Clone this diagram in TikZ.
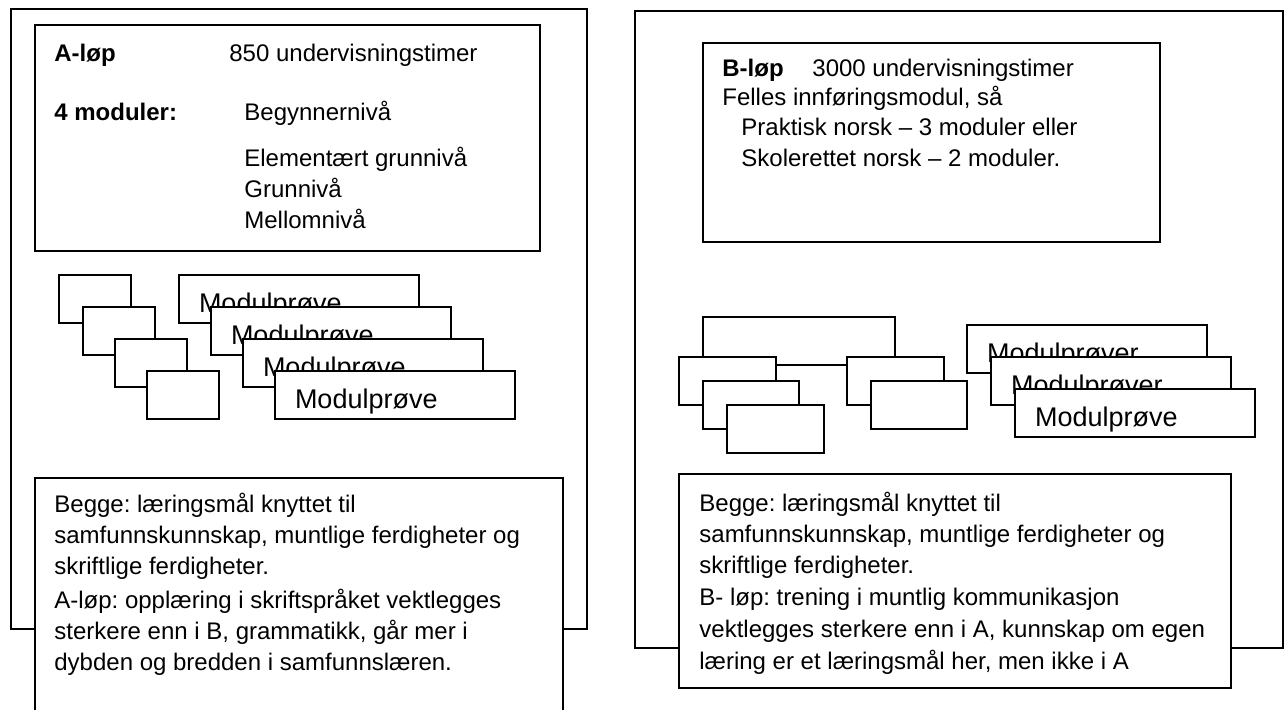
\documentclass[tikz,border=0pt]{standalone}
\usepackage{fontspec}
\setmainfont{Liberation Sans}
\frenchspacing
\tikzset{
    outerbox/.style={draw, line width=1pt, fill=white, inner sep=0pt, anchor=north west},
    smallbox/.style={draw, line width=1pt, fill=white, inner sep=0pt, anchor=north west,
                     minimum height=24pt},
    provebox/.style={draw, line width=1pt, fill=white, anchor=north west, inner ysep=0pt,
                     inner xsep=10pt, minimum width=120pt, text width=100pt, align=left,
                     text height=18.5pt, text depth=5.5pt, font=\fontsize{13.5}{15}\selectfont},
    txt/.style={inner sep=0pt, anchor=base west, font=\fontsize{12}{14}\selectfont},
    btxt/.style={txt, font=\fontsize{12}{14}\selectfont\bfseries},
}
\begin{document}
\begin{tikzpicture}[x=0.5pt, y=-0.5pt]
    \useasboundingbox (0,0) rectangle (1288,709);
    \clip (0,0) rectangle (1288,709);

    % A side
    \node[outerbox, minimum width=288pt, minimum height=310pt] (aframe) at (10,8) {};
    \node[outerbox, minimum width=252.5pt, minimum height=113pt] (abox) at (34,24) {};
    \node[btxt] (ahead) at (54,61) {A-løp};
    \node[txt] (ahours) at (229,61) {850 undervisningstimer};
    \node[btxt] (amod) at (54,120) {4 moduler:};
    \node[txt] (alvl1) at (244,120) {Begynnernivå};
    \node[txt] (alvl2) at (244,166) {Elementært grunnivå};
    \node[txt] (alvl3) at (244,197) {Grunnivå};
    \node[txt] (alvl4) at (244,228) {Mellomnivå};

    \node[smallbox, minimum width=36pt] (asq1) at (58,274) {};
    \node[smallbox, minimum width=36pt] (asq2) at (82,306) {};
    \node[smallbox, minimum width=36pt] (asq3) at (114,338) {};
    \node[smallbox, minimum width=36pt] (asq4) at (146,370) {};

    \node[provebox] (aprove1) at (178,274) {Modulprøve};
    \node[provebox] (aprove2) at (210,306) {Modulprøve};
    \node[provebox] (aprove3) at (242,338) {Modulprøve};
    \node[provebox] (aprove4) at (274,370) {Modulprøve};

    \node[outerbox, minimum width=264pt, minimum height=160pt] (anote) at (34,477) {};
    \node[txt] (anote1) at (54,512) {Begge: læringsmål knyttet til};
    \node[txt] (anote2) at (54,543) {samfunnskunnskap, muntlige ferdigheter og};
    \node[txt] (anote3) at (54,574) {skriftlige ferdigheter.};
    \node[txt] (anote4) at (54,608) {A-løp: opplæring i skriftspråket vektlegges};
    \node[txt] (anote5) at (54,639) {sterkere enn i B, grammatikk, går mer i};
    \node[txt] (anote6) at (54,670) {dybden og bredden i samfunnslæren.};

    % B side
    \node[outerbox, minimum width=324pt, minimum height=318.5pt] (bframe) at (634,10) {};
    \node[outerbox, minimum width=228.5pt, minimum height=99.5pt] (bbox) at (702,42) {};
    \node[btxt] (bhead) at (722,76) {B-løp};
    \node[txt] (bhours) at (812,76) {3000 undervisningstimer};
    \node[txt] (bintro) at (722,105) {Felles innføringsmodul, så};
    \node[txt] (bprak) at (741,135) {Praktisk norsk – 3 moduler eller};
    \node[txt] (bskole) at (741,166) {Skolerettet norsk – 2 moduler.};

    \node[smallbox, minimum width=96pt] (bwide) at (702,316) {};
    \node[smallbox, minimum width=48.5pt] (bleft1) at (678,356) {};
    \node[smallbox, minimum width=48pt] (bleft2) at (702,380) {};
    \node[smallbox, minimum width=48.5pt] (bleft3) at (726,404) {};
    \node[smallbox, minimum width=48.5pt] (bright1) at (846,356) {};
    \node[smallbox, minimum width=48pt] (bright2) at (870,380) {};

    \node[provebox] (bprove1) at (966,324) {Modulprøver};
    \node[provebox] (bprove2) at (990,356) {Modulprøver};
    \node[provebox] (bprove3) at (1014,388) {Modulprøve};

    \node[outerbox, minimum width=276pt, minimum height=107pt] (bnote) at (678,473) {};
    \node[txt] (bnote1) at (699,511) {Begge: læringsmål knyttet til};
    \node[txt] (bnote2) at (699,542) {samfunnskunnskap, muntlige ferdigheter og};
    \node[txt] (bnote3) at (699,573) {skriftlige ferdigheter.};
    \node[txt] (bnote4) at (699,605) {B- løp: trening i muntlig kommunikasjon};
    \node[txt] (bnote5) at (699,637) {vektlegges sterkere enn i A, kunnskap om egen};
    \node[txt] (bnote6) at (699,669) {læring er et læringsmål her, men ikke i A};
\end{tikzpicture}
\end{document}
